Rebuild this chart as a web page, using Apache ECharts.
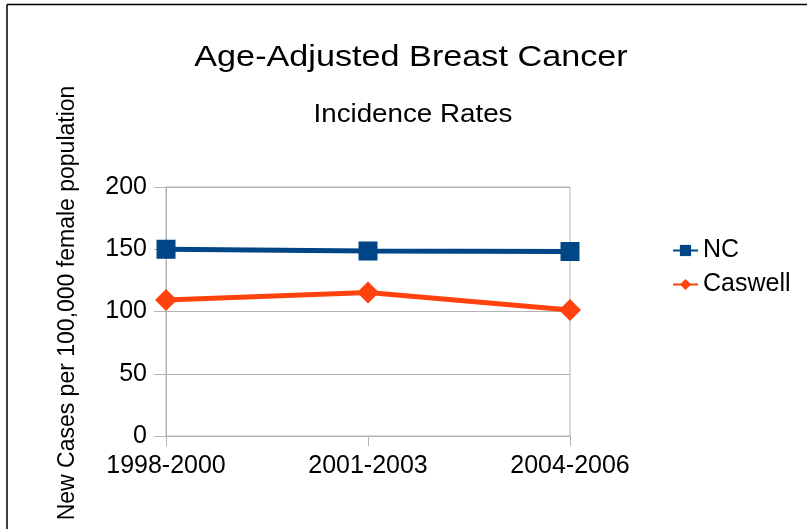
<!DOCTYPE html>
<html>
<head>
<meta charset="utf-8">
<script src="https://cdn.jsdelivr.net/npm/echarts@6/dist/echarts.min.js"></script>
<style>
html,body{margin:0;padding:0;background:#fff;}
#chart{width:807px;height:529px;}
</style>
</head>
<body>
<div id="chart"></div>
<script>
var categories = ['1998-2000', '2001-2003', '2004-2006'];
var ncValues = [150, 148.6, 148.2];
var caswellValues = [109.3, 115.2, 101.2];
var yTicks = { min: 0, max: 200, interval: 50 };

var FONT = '"Liberation Sans", Arial, sans-serif';
var chart = echarts.init(document.getElementById('chart'), null, { renderer: 'canvas' });
chart.setOption({
  animation: false,
  backgroundColor: '#ffffff',
  grid: { left: 166, right: 237, top: 187, bottom: 93, show: true, borderColor: '#b3b3b3', borderWidth: 1 },
  legend: {
    orient: 'vertical', left: 667, top: 233, itemWidth: 25, itemHeight: 14, itemGap: 9,
    textStyle: { fontFamily: FONT, fontSize: 25, color: '#000' },
    data: ['NC', 'Caswell']
  },
  xAxis: {
    type: 'category', data: categories, boundaryGap: false,
    axisLine: { lineStyle: { color: '#b3b3b3', width: 1 } },
    axisTick: { show: true, length: 10, lineStyle: { color: '#b3b3b3' } },
    axisLabel: { color: '#000', fontFamily: FONT, fontSize: 25, margin: 18 },
    splitLine: { show: false }
  },
  yAxis: {
    type: 'value', min: yTicks.min, max: yTicks.max, interval: yTicks.interval,
    axisLine: { show: true, lineStyle: { color: '#b3b3b3', width: 1 } },
    axisTick: { show: true, length: 12, lineStyle: { color: '#b3b3b3' } },
    axisLabel: { color: '#000', fontFamily: FONT, fontSize: 25, margin: 19 },
    splitLine: { lineStyle: { color: '#b3b3b3', width: 1 } }
  },
  graphic: [
    { type: 'line', shape: { x1: 7, y1: 4.5, x2: 820, y2: 4.5 }, style: { stroke: '#000', lineWidth: 1.5 } },
    { type: 'line', shape: { x1: 7, y1: 4.5, x2: 7, y2: 540 }, style: { stroke: '#000', lineWidth: 1.5 } },
    { type: 'text', x: 411, y: 42.5, scaleX: 1.14,
      style: { text: 'Age-Adjusted Breast Cancer', fontFamily: FONT, fontSize: 30,
        fill: '#000', textAlign: 'center', textVerticalAlign: 'top' } },
    { type: 'text', x: 413, y: 103, scaleX: 1.11,
      style: { text: 'Incidence Rates', fontFamily: FONT, fontSize: 25,
        fill: '#000', textAlign: 'center', textVerticalAlign: 'top' } },
    { type: 'text', x: 68, y: 303, rotation: Math.PI / 2,
      style: { text: 'New Cases per 100,000 female population', fontFamily: FONT, fontSize: 23,
        fill: '#000', textAlign: 'center', textVerticalAlign: 'middle' } }
  ],
  series: [
    { name: 'NC', type: 'line', data: ncValues, symbol: 'rect', symbolSize: 19,
      lineStyle: { color: '#004586', width: 5 }, itemStyle: { color: '#004586' } },
    { name: 'Caswell', type: 'line', data: caswellValues, symbol: 'diamond', symbolSize: 22,
      lineStyle: { color: '#ff420e', width: 5 }, itemStyle: { color: '#ff420e' } }
  ]
});
</script>
</body>
</html>
